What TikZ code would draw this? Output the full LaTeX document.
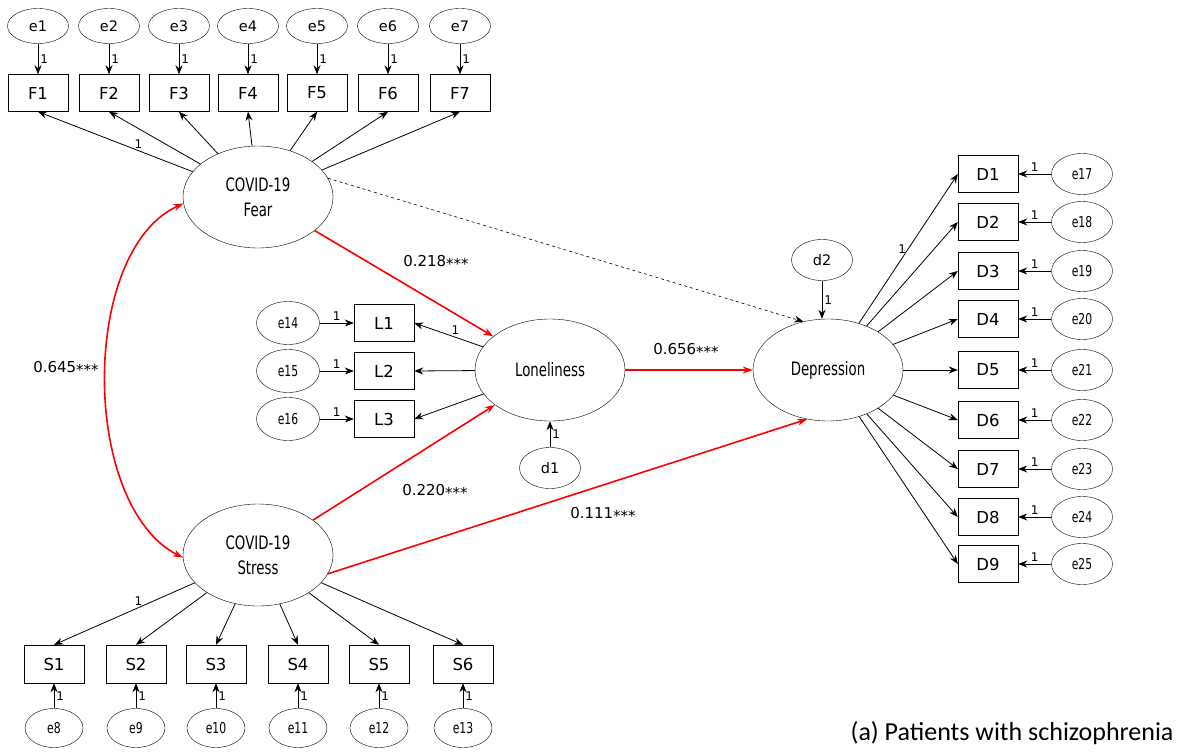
\documentclass[tikz,border=0pt]{standalone}
\usepackage{fontspec}
\setmainfont{DejaVu Sans}
\newfontfamily\narrowfont{DejaVu Sans}[FakeStretch=0.72]
\newfontfamily\capfont{Carlito}
\usetikzlibrary{arrows.meta,shapes.geometric}
\newcommand\sigstars{\raisebox{-.2em}{***}}
\tikzset{
  obs/.style={draw,rectangle,minimum width=60pt,minimum height=37pt,inner sep=0pt,font=\fontsize{16.5}{16.5}\selectfont},
  err/.style={draw,ellipse,minimum width=61pt,minimum height=41pt,inner sep=0pt,font=\narrowfont\fontsize{15}{15}\selectfont},
  errw/.style={err,font=\fontsize{14.5}{14.5}\selectfont},
  lat/.style={draw,ellipse,minimum width=150pt,minimum height=102pt,inner sep=0pt,align=center,font=\narrowfont\fontsize{18.5}{25}\selectfont},
  pth/.style={-{Stealth[length=9pt,width=7pt]},line width=.8pt},
  rpth/.style={-{Stealth[length=10pt,width=7pt]},red,line width=1.6pt},
  one/.style={font=\fontsize{12}{12}\selectfont,inner sep=2pt},
  coef/.style={font=\fontsize{15}{15}\selectfont}
}
\begin{document}
\begin{tikzpicture}[x=1pt,y=-1pt]
\useasboundingbox (0,0) rectangle (1180,754);
% latent variables
\node[lat] (fear) at (258,197) {COVID-19\\Fear};
\node[lat] (stress) at (258,555) {COVID-19\\Stress};
\node[lat] (lon) at (550,370) {Loneliness};
\node[lat] (dep) at (828,370) {Depression};
\node[errw] (d1) at (550,468) {d1};
\node[errw] (d2) at (822,260) {d2};
% fear items
\foreach \i/\x in {1/38,2/109,3/179,4/248,5/317,6/388,7/460}{
  \node[obs] (F\i) at (\x,93) {F\i};
  \node[errw,minimum height=35pt] (e\i) at (\x,26) {e\i};
  \draw[pth] (e\i) -- node[one,right]{1} (F\i);
}
\draw[pth] (fear) -- node[one,pos=.35,above]{1} (F1.south);
\foreach \i in {2,...,7} \draw[pth] (fear) -- (F\i.south);
% stress items
\foreach \i/\x/\e in {1/54/8,2/136/9,3/216/10,4/298/11,5/379/12,6/463/13}{
  \node[obs,minimum height=38pt] (S\i) at (\x,664) {S\i};
  \node[err,minimum width=58pt,minimum height=39pt] (e\e) at (\x,728) {e\e};
  \draw[pth] (e\e) -- node[one,right]{1} (S\i);
}
\draw[pth] (stress) -- node[one,pos=.4,above]{1} (S1.north);
\foreach \i in {2,...,6} \draw[pth] (stress) -- (S\i.north);
% loneliness items
\foreach \i/\y/\e in {1/323/14,2/371/15,3/419/16}{
  \node[obs] (L\i) at (384,\y) {L\i};
  \node[err,minimum width=63pt,minimum height=43pt] (e\e) at (288,\y) {e\e};
  \draw[pth] (e\e) -- node[one,above]{1} (L\i);
}
\draw[pth] (lon) -- node[one,pos=.4,above]{1} (L1.east);
\draw[pth] (lon) -- (L2.east);
\draw[pth] (lon) -- (L3.east);
% depression items
\foreach \i/\y/\e in {1/174/17,2/222/18,3/271/19,4/319/20,5/370/21,6/420/22,7/469/23,8/517/24,9/564/25}{
  \node[obs] (D\i) at (988,\y) {D\i};
  \node[err] (e\e) at (1082,\y) {e\e};
  \draw[pth] (e\e) -- node[one,above]{1} (D\i);
}
\draw[pth] (dep) -- node[one,pos=.5,left]{1} (D1.west);
\foreach \i in {2,...,9} \draw[pth] (dep) -- (D\i.west);
% disturbances
\draw[pth] (d1) -- node[one,right]{1} (lon);
\draw[pth] (d2.south) -- node[one,right]{1} (d2.south |- dep.north);
% structural paths
\draw[rpth] (fear) -- (lon);
\draw[rpth] (lon) -- (dep);
\draw[rpth] (stress) -- (lon);
\draw[rpth] (stress.-15) -- (dep.247);
\draw[pth,dashed,line width=.6pt] (fear.15) -- (dep.117);
\draw[rpth,{Stealth[length=10pt,width=7pt]}-{Stealth[length=10pt,width=7pt]}] (fear.185) .. controls (80,250) and (80,505) .. (stress.182);
% coefficients
\node[coef] (c1) at (436,262) {0.218\sigstars};
\node[coef] (c2) at (686,350) {0.656\sigstars};
\node[coef] (c3) at (435,491) {0.220\sigstars};
\node[coef] (c4) at (603,514) {0.111\sigstars};
\node[coef] (c5) at (66,368) {0.645\sigstars};
\node[anchor=base east,font=\capfont\fontsize{26}{26}\selectfont] (cap) at (1177,740) {(a) Patients with schizophrenia};
\end{tikzpicture}
\end{document}
